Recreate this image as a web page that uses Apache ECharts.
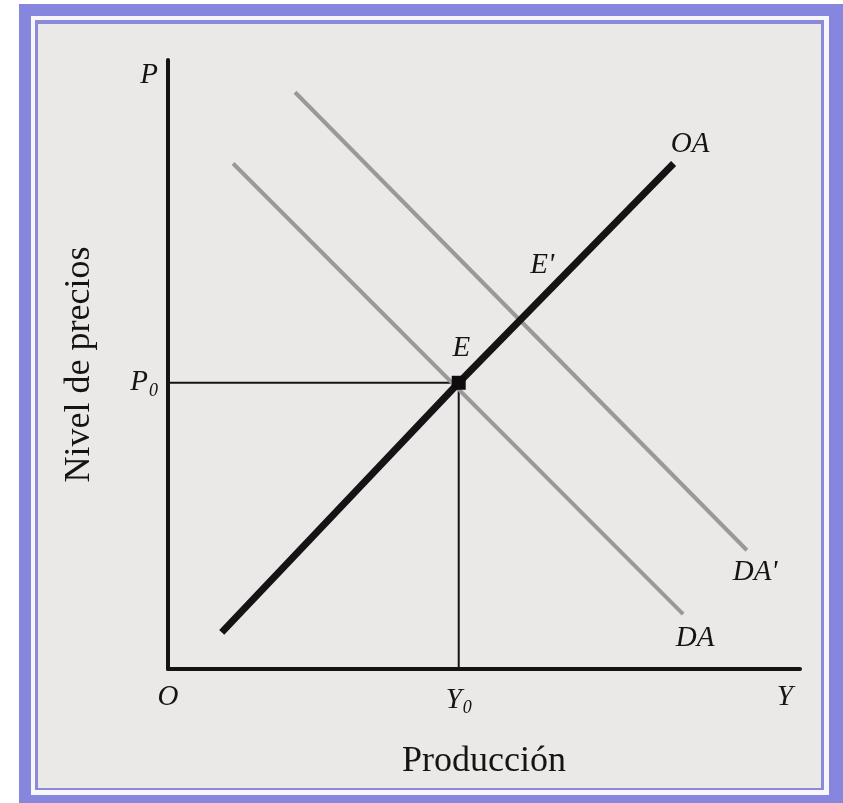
<!DOCTYPE html>
<html>
<head>
<meta charset="utf-8">
<title>Oferta y demanda agregada</title>
<script src="https://cdn.jsdelivr.net/npm/echarts@6/dist/echarts.min.js"></script>
<style>
  html, body { margin: 0; padding: 0; background: #fff; }
  #chart { width: 843px; height: 803px; }
</style>
</head>
<body>
<div id="chart"></div>
<script>
// curves, in abstract units (production on x, price level on y)
const oaCurve = [[0.85, 0.6], [4.6, 4.7], [8.0, 8.3]];
const daCurve = [[1.03, 8.3], [8.15, 0.9]];
const daPrimeCurve = [[2.01, 9.47], [9.16, 1.95]];
const equilibrium = [4.6, 4.7];

// tick labels
const xTicks = [0, 4.6, 9.76];
const xTickNames = ['O', 'Y|0', 'Y'];
const yTicks = [4.7, 9.74];
const yTickNames = ['P|0', 'P'];

// curve / point names
const curveLabels = [
  { name: 'OA', value: [8.26, 8.62] },
  { name: "DA'", value: [9.29, 1.59] },
  { name: 'DA', value: [8.34, 0.51] },
  { name: 'E', value: [4.64, 5.27] },
  { name: "E'", value: [5.92, 6.62] }
];

const serif = '"Liberation Serif", "DejaVu Serif", serif';
const ink = '#151314';

const chart = echarts.init(document.getElementById('chart'));

function tickText(ticks, names) {
  return v => {
    const i = ticks.findIndex(t => Math.abs(t - v) < 1e-6);
    if (i < 0) return '';
    const parts = names[i].split('|');
    return parts.length > 1 ? `{i|${parts[0]}}{s|${parts[1]}}` : `{i|${parts[0]}}`;
  };
}

const tickRich = {
  i: { fontFamily: serif, fontStyle: 'italic', fontSize: 29, color: ink },
  s: { fontFamily: serif, fontStyle: 'italic', fontSize: 18, color: ink, padding: [16, 0, 0, 1] }
};

const option = {
  animation: false,
  backgroundColor: '#ffffff',
  graphic: [
    { type: 'rect', silent: true, z: -10, shape: { x: 19, y: 4, width: 824, height: 799 }, style: { fill: '#8686de' } },
    { type: 'rect', silent: true, z: -9, shape: { x: 31, y: 16, width: 798, height: 779 }, style: { fill: '#f6f6fb' } },
    { type: 'rect', silent: true, z: -8, shape: { x: 35, y: 20, width: 789, height: 770 }, style: { fill: '#8a8ad8' } },
    { type: 'rect', silent: true, z: -7, shape: { x: 38, y: 24, width: 783, height: 764 }, style: { fill: '#ebe8e8' } }
  ],
  grid: { left: 168, top: 60, width: 632, height: 609 },
  xAxis: {
    type: 'value',
    min: 0,
    max: 10,
    name: 'Producción',
    nameLocation: 'middle',
    nameGap: 75,
    nameTextStyle: { fontFamily: serif, fontSize: 36, color: ink },
    axisLine: { show: true, lineStyle: { color: ink, width: 4 } },
    axisTick: { show: false },
    splitLine: { show: false },
    axisLabel: {
      customValues: xTicks,
      margin: 14,
      formatter: tickText(xTicks, xTickNames),
      rich: tickRich
    }
  },
  yAxis: {
    type: 'value',
    min: 0,
    max: 10,
    name: 'Nivel de precios',
    nameLocation: 'middle',
    nameGap: 70,
    nameRotate: 90,
    nameTextStyle: { fontFamily: serif, fontSize: 36, color: ink },
    axisLine: { show: true, lineStyle: { color: ink, width: 4 } },
    axisTick: { show: false },
    splitLine: { show: false },
    axisLabel: {
      customValues: yTicks,
      margin: 10,
      formatter: tickText(yTicks, yTickNames),
      rich: tickRich
    }
  },
  series: [
    {
      name: 'guides',
      type: 'line',
      data: [[0, equilibrium[1]], equilibrium, [equilibrium[0], 0]],
      showSymbol: false,
      lineStyle: { color: ink, width: 2 },
      z: 1
    },
    {
      name: "DA'",
      type: 'line',
      data: daPrimeCurve,
      showSymbol: false,
      lineStyle: { color: '#9b9898', width: 4 },
      z: 2
    },
    {
      name: 'DA',
      type: 'line',
      data: daCurve,
      showSymbol: false,
      lineStyle: { color: '#9b9898', width: 4 },
      z: 2
    },
    {
      name: 'OA',
      type: 'line',
      data: oaCurve,
      showSymbol: false,
      lineStyle: { color: ink, width: 7 },
      z: 3
    },
    {
      name: 'E',
      type: 'scatter',
      data: [equilibrium],
      symbol: 'rect',
      symbolSize: 14,
      itemStyle: { color: '#0d0d0d', opacity: 1 },
      z: 4
    },
    {
      name: 'labels',
      type: 'scatter',
      data: curveLabels,
      symbolSize: 0,
      itemStyle: { opacity: 1 },
      label: {
        show: true,
        position: 'inside',
        formatter: p => p.name,
        fontFamily: serif,
        fontStyle: 'italic',
        fontSize: 29,
        color: ink
      },
      z: 5
    }
  ]
};

chart.setOption(option);
</script>
</body>
</html>
